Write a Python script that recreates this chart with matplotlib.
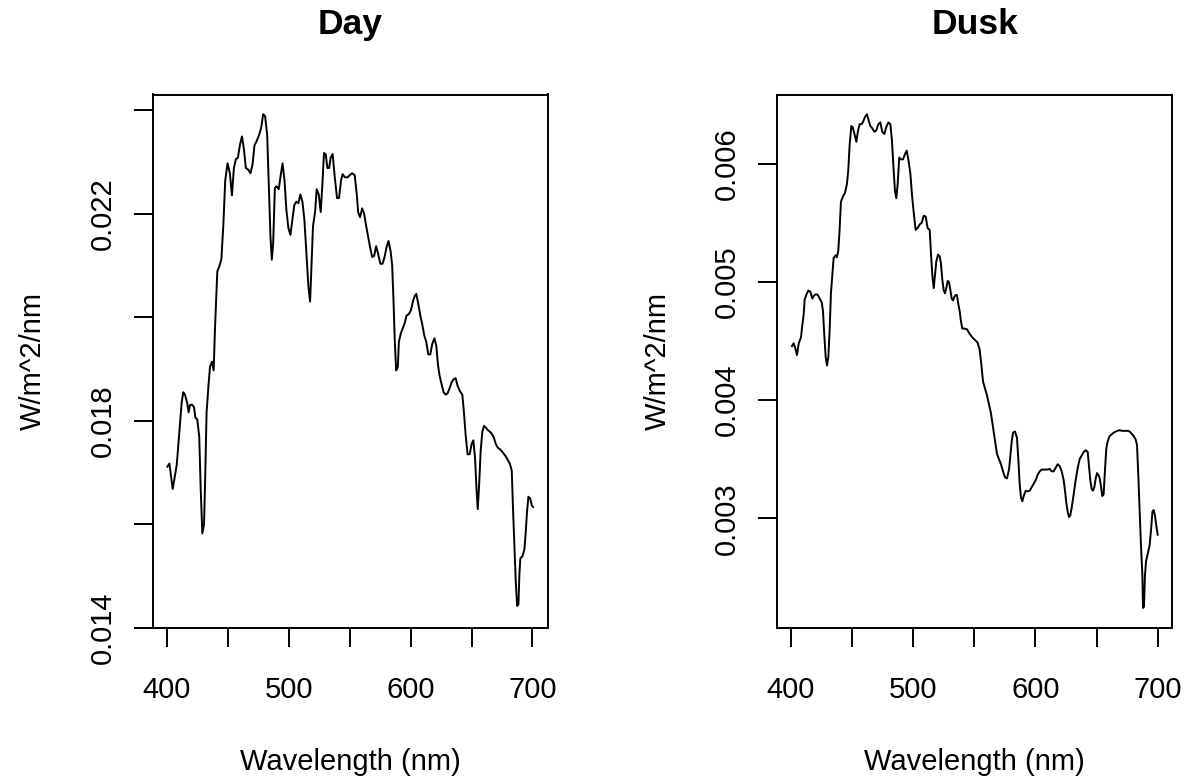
import matplotlib
matplotlib.use("Agg")
import matplotlib.pyplot as plt

plt.rcParams['font.family'] = ['Liberation Sans', 'DejaVu Sans']

# ---- Day spectrum (wavelength nm, irradiance W/m^2/nm) ----
day_wl = [400.5, 402.2, 404.9, 408.2, 410.4, 412.3, 413.6, 415.0, 416.9, 418.0, 419.1, 420.7,
          422.4, 423.5, 425.1, 426.7, 427.8, 429.2, 430.6, 431.6, 432.7, 434.1, 435.5, 437.1,
          438.5, 439.6, 441.5, 443.1, 444.8, 446.4, 448.0, 449.9, 451.8, 453.5, 455.1, 456.7,
          458.4, 460.0, 461.7, 463.3, 464.9, 466.8, 468.7, 470.4, 472.0, 473.6, 475.8, 477.5,
          479.1, 480.7, 482.4, 484.0, 485.1, 486.2, 487.3, 488.7, 490.0, 491.9, 493.3, 495.0,
          496.6, 498.2, 499.8, 501.5, 503.1, 504.7, 506.4, 508.0, 509.6, 511.3, 512.9, 514.6,
          516.2, 517.6, 518.9, 520.0, 521.7, 523.0, 524.7, 526.3, 527.7, 529.0, 530.4, 531.8,
          533.2, 534.5, 536.1, 537.8, 539.7, 541.3, 543.0, 544.3, 546.2, 548.4, 550.0, 552.1,
          554.2, 555.9, 557.0, 558.6, 560.3, 561.9, 563.6, 565.2, 566.8, 568.5, 570.1, 571.8,
          573.4, 575.3, 577.0, 578.6, 580.3, 581.9, 583.6, 584.9, 586.0, 587.1, 588.2, 589.6,
          590.4, 592.1, 593.7, 595.3, 596.7, 598.6, 600.3, 601.9, 603.3, 604.7, 606.3, 608.0,
          609.6, 611.2, 612.9, 614.5, 616.2, 617.8, 619.5, 621.1, 622.5, 623.8, 625.5, 627.1,
          628.8, 630.4, 632.1, 633.7, 635.3, 637.0, 638.6, 640.5, 642.5, 643.8, 645.2, 646.8,
          648.5, 650.1, 651.5, 652.9, 654.0, 655.1, 656.2, 657.5, 658.9, 660.3, 661.6, 663.3,
          664.9, 666.6, 668.2, 669.9, 671.5, 673.2, 674.8, 676.4, 678.1, 679.7, 681.4, 683.0,
          684.1, 685.2, 686.3, 687.4, 688.5, 689.3, 690.1, 691.8, 693.4, 694.5, 695.6, 696.7,
          698.1, 699.5, 700.5]
day_val = [0.01711, 0.01717, 0.01668, 0.01714, 0.01779, 0.01836, 0.01855, 0.01850, 0.01833,
           0.01816, 0.01830, 0.01831, 0.01826, 0.01806, 0.01802, 0.01768, 0.01673, 0.01582,
           0.01599, 0.01694, 0.01816, 0.01863, 0.01904, 0.01914, 0.01897, 0.01979, 0.02088,
           0.02098, 0.02111, 0.02176, 0.02264, 0.02297, 0.02278, 0.02235, 0.02288, 0.02305,
           0.02308, 0.02332, 0.02349, 0.02325, 0.02288, 0.02285, 0.02278, 0.02295, 0.02332,
           0.02339, 0.02352, 0.02366, 0.02392, 0.02388, 0.02352, 0.02237, 0.02155, 0.02111,
           0.02142, 0.02249, 0.02253, 0.02247, 0.02271, 0.02297, 0.02264, 0.02206, 0.02172,
           0.02159, 0.02189, 0.02217, 0.02223, 0.02220, 0.02237, 0.02223, 0.02189, 0.02122,
           0.02060, 0.02030, 0.02108, 0.02176, 0.02203, 0.02247, 0.02237, 0.02203, 0.02257,
           0.02317, 0.02315, 0.02288, 0.02288, 0.02308, 0.02315, 0.02271, 0.02230, 0.02230,
           0.02264, 0.02276, 0.02270, 0.02270, 0.02274, 0.02278, 0.02274, 0.02237, 0.02203,
           0.02193, 0.02210, 0.02200, 0.02176, 0.02155, 0.02135, 0.02116, 0.02118, 0.02137,
           0.02122, 0.02103, 0.02103, 0.02115, 0.02135, 0.02147, 0.02128, 0.02101, 0.02033,
           0.01952, 0.01897, 0.01904, 0.01952, 0.01969, 0.01979, 0.01989, 0.02003, 0.02006,
           0.02013, 0.02030, 0.02040, 0.02045, 0.02026, 0.02003, 0.01986, 0.01965, 0.01952,
           0.01928, 0.01928, 0.01948, 0.01959, 0.01945, 0.01908, 0.01887, 0.01870, 0.01855,
           0.01850, 0.01853, 0.01863, 0.01874, 0.01880, 0.01882, 0.01867, 0.01857, 0.01850,
           0.01816, 0.01772, 0.01735, 0.01735, 0.01755, 0.01762, 0.01728, 0.01673, 0.01629,
           0.01673, 0.01741, 0.01779, 0.01790, 0.01787, 0.01782, 0.01779, 0.01775, 0.01768,
           0.01755, 0.01748, 0.01745, 0.01741, 0.01736, 0.01731, 0.01724, 0.01717, 0.01704,
           0.01626, 0.01558, 0.01490, 0.01442, 0.01445, 0.01504, 0.01534, 0.01538, 0.01551,
           0.01585, 0.01626, 0.01653, 0.01650, 0.01636, 0.01633]

# ---- Dusk spectrum ----
dusk_wl = [400.8, 402.2, 403.5, 404.9, 406.5, 408.2, 409.3, 410.4, 411.2, 412.5, 414.2, 415.8,
           417.5, 418.5, 420.2, 421.8, 423.5, 425.1, 426.2, 427.3, 428.4, 429.5, 430.6, 431.7,
           432.7, 433.8, 434.9, 436.6, 437.6, 438.7, 439.8, 440.9, 442.6, 444.2, 445.8, 446.9,
           448.0, 449.4, 450.7, 452.1, 453.5, 454.8, 456.2, 457.8, 459.2, 460.5, 462.2, 463.6,
           464.9, 466.6, 468.2, 469.8, 471.5, 473.1, 474.7, 476.4, 478.0, 479.7, 481.3, 482.6,
           484.0, 485.1, 486.2, 487.3, 488.6, 490.0, 491.7, 493.3, 494.7, 496.0, 497.7, 499.0,
           500.4, 502.0, 503.6, 505.3, 506.9, 508.6, 510.2, 511.8, 513.5, 514.6, 515.7, 516.8,
           517.8, 518.9, 520.3, 521.7, 522.7, 523.8, 524.9, 526.0, 527.1, 528.2, 529.3, 530.4,
           531.5, 532.6, 533.7, 534.8, 535.8, 536.9, 538.0, 539.1, 540.2, 541.8, 544.0, 546.2,
           548.4, 550.5, 552.7, 554.4, 556.0, 557.1, 558.7, 560.4, 562.0, 563.6, 565.3, 566.9,
           568.5, 570.2, 571.8, 573.5, 575.1, 576.7, 578.4, 579.5, 580.6, 581.7, 583.3, 584.9,
           586.0, 587.1, 588.2, 589.3, 590.4, 592.0, 593.6, 595.3, 596.9, 598.6, 600.2, 601.8,
           603.5, 605.1, 606.7, 608.4, 610.0, 611.6, 613.3, 614.9, 616.6, 618.2, 619.8, 621.5,
           623.1, 624.2, 625.3, 626.4, 627.5, 628.5, 629.6, 631.3, 632.9, 634.6, 636.2, 637.8,
           639.5, 641.1, 642.8, 643.8, 644.9, 646.0, 647.1, 648.2, 649.3, 650.4, 651.5, 652.6,
           653.7, 654.7, 655.8, 656.9, 658.0, 659.1, 660.7, 662.4, 664.0, 665.7, 667.3, 668.9,
           670.6, 672.2, 673.8, 675.5, 677.1, 678.7, 680.4, 682.0, 683.1, 684.2, 685.3, 686.4,
           687.5, 688.0, 688.8, 689.6, 690.5, 691.8, 693.4, 694.6, 695.7, 696.7, 697.8, 698.9,
           700.0]
dusk_val = [0.004457, 0.004481, 0.004442, 0.004382, 0.004487, 0.004531, 0.004636, 0.004725,
            0.004851, 0.004890, 0.004928, 0.004919, 0.004860, 0.004881, 0.004896, 0.004893,
            0.004860, 0.004830, 0.004755, 0.004546, 0.004367, 0.004293, 0.004367, 0.004606,
            0.004904, 0.005054, 0.005203, 0.005227, 0.005209, 0.005263, 0.005442, 0.005681,
            0.005725, 0.005755, 0.005830, 0.005949, 0.006158, 0.006322, 0.006307, 0.006248,
            0.006188, 0.006278, 0.006337, 0.006337, 0.006361, 0.006397, 0.006421, 0.006367,
            0.006322, 0.006301, 0.006272, 0.006284, 0.006337, 0.006352, 0.006272, 0.006254,
            0.006313, 0.006352, 0.006337, 0.006203, 0.005949, 0.005770, 0.005710, 0.005830,
            0.006054, 0.006039, 0.006039, 0.006084, 0.006113, 0.006039, 0.005919, 0.005740,
            0.005591, 0.005442, 0.005457, 0.005487, 0.005501, 0.005561, 0.005555, 0.005457,
            0.005442, 0.005233, 0.005054, 0.004949, 0.005054, 0.005173, 0.005233, 0.005218,
            0.005158, 0.005024, 0.004934, 0.004904, 0.004949, 0.005009, 0.005000, 0.004934,
            0.004860, 0.004845, 0.004875, 0.004890, 0.004890, 0.004815, 0.004755, 0.004666,
            0.004606, 0.004606, 0.004600, 0.004561, 0.004531, 0.004510, 0.004487, 0.004427,
            0.004278, 0.004158, 0.004099, 0.004039, 0.003964, 0.003890, 0.003770, 0.003651,
            0.003546, 0.003501, 0.003457, 0.003397, 0.003346, 0.003337, 0.003412, 0.003531,
            0.003651, 0.003725, 0.003734, 0.003681, 0.003501, 0.003293, 0.003173, 0.003143,
            0.003188, 0.003233, 0.003227, 0.003233, 0.003263, 0.003293, 0.003322, 0.003367,
            0.003397, 0.003412, 0.003412, 0.003412, 0.003412, 0.003418, 0.003397, 0.003397,
            0.003427, 0.003457, 0.003442, 0.003397, 0.003322, 0.003233, 0.003128, 0.003054,
            0.003009, 0.003024, 0.003084, 0.003203, 0.003322, 0.003427, 0.003501, 0.003531,
            0.003561, 0.003576, 0.003561, 0.003442, 0.003322, 0.003248, 0.003233, 0.003263,
            0.003337, 0.003382, 0.003367, 0.003337, 0.003263, 0.003188, 0.003203, 0.003412,
            0.003591, 0.003651, 0.003696, 0.003710, 0.003725, 0.003734, 0.003740, 0.003746,
            0.003740, 0.003740, 0.003740, 0.003740, 0.003734, 0.003716, 0.003696, 0.003666,
            0.003621, 0.003352, 0.003054, 0.002755, 0.002516, 0.002240, 0.002250, 0.002516,
            0.002636, 0.002696, 0.002770, 0.002904, 0.003054, 0.003069, 0.003024, 0.002934,
            0.002860]

titles = ["Day", "Dusk"]
x_ticks = [400, 450, 500, 550, 600, 650, 700]
x_ticklabels = ["400", "", "500", "", "600", "", "700"]
day_yticks = [0.014, 0.016, 0.018, 0.020, 0.022, 0.024]
day_yticklabels = ["0.014", "", "0.018", "", "0.022", ""]
dusk_yticks = [0.003, 0.004, 0.005, 0.006]
dusk_yticklabels = ["0.003", "0.004", "0.005", "0.006"]

W, H = 1184, 778
fig = plt.figure(figsize=(W / 100, H / 100), dpi=100)

FS = 21
lw = 1.4

def make_axes(left_px):
    ax = fig.add_axes([left_px / W, (H - 627.7) / H, 395 / W, 533.2 / H])
    for s in ax.spines.values():
        s.set_linewidth(lw)
    ax.tick_params(length=13.5, width=lw, labelsize=FS, direction='out')
    ax.tick_params(axis='x', pad=21)
    ax.tick_params(axis='y', pad=12.5)
    return ax

panels = [
    (152.7, day_wl, day_val, day_yticks, day_yticklabels),
    (777.3, dusk_wl, dusk_val, dusk_yticks, dusk_yticklabels),
]
for (left, wl, val, yt, ytl), title in zip(panels, titles):
    ax = make_axes(left)
    ax.plot(wl, val, color='black', linewidth=lw)
    ax.margins(x=0.04, y=0.04)
    ax.set_xticks(x_ticks)
    ax.set_xticklabels(x_ticklabels)
    ax.set_yticks(yt)
    ax.set_yticklabels(ytl, rotation=90, va='center')
    ax.set_title(title, fontsize=25.5, fontweight='bold', pad=43.5)
    ax.set_xlabel("Wavelength (nm)", fontsize=FS, labelpad=32)
    ax.set_ylabel("W/m^2/nm", fontsize=FS, labelpad=30)

fig.savefig("out.png", dpi=100)
